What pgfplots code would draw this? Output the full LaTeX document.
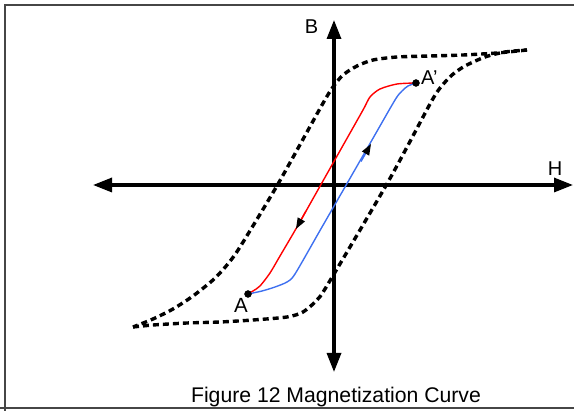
\documentclass[border=0pt]{standalone}
\usepackage{fontspec}
\setmainfont{Liberation Sans}
\usepackage{pgfplots}
\pgfplotsset{compat=1.18}
\usetikzlibrary{arrows.meta}
\definecolor{bluecurve}{RGB}{62,112,240}
\definecolor{framegray}{RGB}{70,70,70}
\begin{document}
\begin{tikzpicture}
\useasboundingbox (0,0) rectangle (574pt,411pt);
\begin{axis}[
  at={(0,0)}, anchor=south west,
  width=574pt, height=411pt, scale only axis,
  xmin=0, xmax=574, ymin=0, ymax=411, y dir=reverse,
  hide axis, clip=false,
]
% frame
\addplot[framegray, line width=1.6pt] coordinates {(5,420) (5,5) (590,5)};
\addplot[framegray, line width=1.6pt] coordinates {(0,408) (590,408)};
% axes with arrows
\addplot[black, line width=3.3pt, {Triangle[length=19pt,width=14pt]}-{Triangle[length=19pt,width=14pt]}] coordinates {(93,185) (573,185)};
\addplot[black, line width=3.3pt, {Triangle[length=19pt,width=14pt]}-{Triangle[length=19pt,width=14pt]}] coordinates {(334,20) (334,372)};
% major loop, descending branch
\addplot[black, line width=3.4pt, dash pattern=on 6pt off 4pt, smooth, tension=0.45] coordinates {
(527,50) (497,53) (463,55) (430,56) (397,57) (373,60) (357,66) (343,75) (333,87) (322,105) (278,184) (240,247) (227,265) (213,280) (193,296) (173,309) (153,319) (133,327)};
% major loop, ascending branch
\addplot[black, line width=3.4pt, dash pattern=on 6pt off 4pt, smooth, tension=0.45] coordinates {
(133,327) (153,325) (187,323) (220,322) (253,320) (287,317) (303,312) (317,300) (328,284) (388,182) (430,104) (440,88) (452,75) (465,66) (485,57) (505,52) (527,50)};
% minor loop
\addplot[red, line width=1.4pt, smooth, tension=0.45] coordinates {
(416,83) (397,84) (380,89) (370,97) (363,110) (341,149) (319,188) (297,227) (280,256) (270,273) (260,286) (253,291) (248,294)};
\addplot[bluecurve, line width=1.4pt, smooth, tension=0.45] coordinates {
(248,294) (262,291) (275,287) (287,282) (295,274) (320,230.5) (345,187) (370,143.5) (395,100) (402,91) (408,86) (416,83)};
% direction arrows
\addplot[red, line width=1.4pt, -{Triangle[length=11pt,width=8pt,color=black]}] coordinates {(306,211) (296,229)};
\addplot[bluecurve, line width=1.4pt, -{Triangle[length=11pt,width=8pt,color=black]}] coordinates {(361,161.5) (371,144)};
% points A and A'
\addplot[only marks, mark=*, mark size=3.5pt, black] coordinates {(248,294) (416,83)};
% labels
\node[anchor=base, inner sep=0pt, font=\fontsize{20}{20}\selectfont] at (axis cs:311.5,34) {B};
\node[anchor=base, inner sep=0pt, font=\fontsize{20}{20}\selectfont] at (axis cs:555,176) {H};
\node[anchor=base, inner sep=0pt, font=\fontsize{20.5}{20.5}\selectfont] at (axis cs:241,313) {A};
\node[anchor=base west, inner sep=0pt, font=\fontsize{20}{20}\selectfont] at (axis cs:421,85) {A'};
\node[anchor=base, inner sep=0pt, font=\fontsize{21.2}{21.2}\selectfont] at (axis cs:336,403) {Figure 12 Magnetization Curve};
\end{axis}
\end{tikzpicture}
\end{document}
